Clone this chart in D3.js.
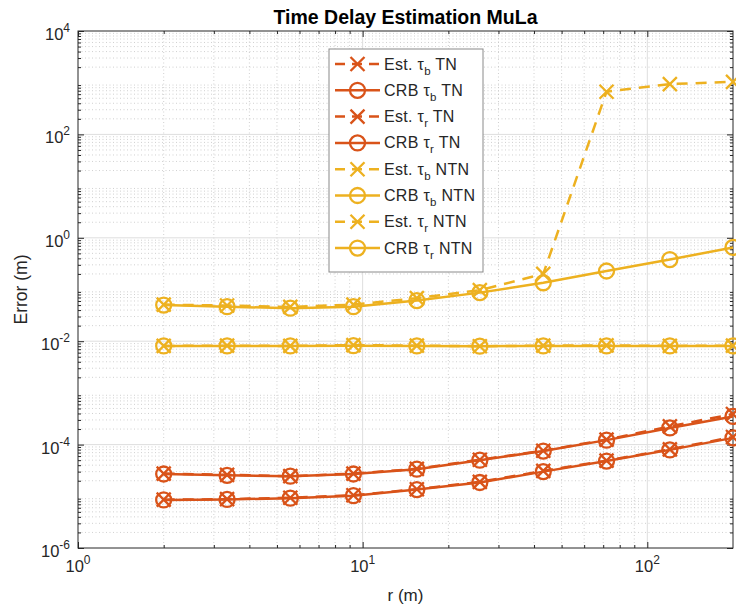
<!DOCTYPE html>
<html><head><meta charset="utf-8">
<script src="https://cdn.jsdelivr.net/npm/d3@7"></script>
<style>body{margin:0;background:#fff}svg{display:block}text{font-family:"Liberation Sans",Arial,Helvetica,sans-serif;fill:#262626}</style>
</head><body><svg id="c" width="736" height="610"></svg>
<script>
const r = [2, 3.34, 5.57, 9.28, 15.5, 25.8, 43.1, 71.9, 120, 200];
const estTauBTN  = [2.75e-5, 2.6e-5, 2.45e-5, 2.75e-5, 3.4e-5, 5.1e-5, 7.6e-5, 1.25e-4, 2.25e-4, 3.9e-4];
const crbTauBTN  = [2.7e-5, 2.55e-5, 2.45e-5, 2.7e-5, 3.35e-5, 5.0e-5, 7.5e-5, 1.22e-4, 2.1e-4, 3.5e-4];
const estTauRTN  = [8.6e-6, 8.8e-6, 9.4e-6, 1.05e-5, 1.37e-5, 1.9e-5, 3.1e-5, 4.9e-5, 8.1e-5, 1.4e-4];
const crbTauRTN  = [8.5e-6, 8.7e-6, 9.2e-6, 1.03e-5, 1.35e-5, 1.85e-5, 3.0e-5, 4.8e-5, 7.9e-5, 1.35e-4];
const estTauBNTN = [0.051, 0.049, 0.046, 0.051, 0.068, 0.097, 0.2, 670, 940, 1040];
const crbTauBNTN = [0.050, 0.0465, 0.0435, 0.0465, 0.061, 0.087, 0.135, 0.228, 0.38, 0.65];
const estTauRNTN = [0.0081, 0.0082, 0.0081, 0.0084, 0.0082, 0.0080, 0.0082, 0.0083, 0.0081, 0.0082];
const crbTauRNTN = [0.0081, 0.0081, 0.0081, 0.0082, 0.0081, 0.0080, 0.0081, 0.0081, 0.0081, 0.0081];
const xTickExp = [0, 1, 2];
const yTickExp = [-6, -4, -2, 0, 2, 4];

const TN = "#D95319", NTN = "#EDB120";
const series = [
  {pre:"Est. τ", sub:"b", post:" TN", vals:estTauBTN, color:TN, est:true},
  {pre:"CRB τ", sub:"b", post:" TN", vals:crbTauBTN, color:TN, est:false},
  {pre:"Est. τ", sub:"r", post:" TN", vals:estTauRTN, color:TN, est:true},
  {pre:"CRB τ", sub:"r", post:" TN", vals:crbTauRTN, color:TN, est:false},
  {pre:"Est. τ", sub:"b", post:" NTN", vals:estTauBNTN, color:NTN, est:true},
  {pre:"CRB τ", sub:"b", post:" NTN", vals:crbTauBNTN, color:NTN, est:false},
  {pre:"Est. τ", sub:"r", post:" NTN", vals:estTauRNTN, color:NTN, est:true},
  {pre:"CRB τ", sub:"r", post:" NTN", vals:crbTauRNTN, color:NTN, est:false}
];

const L = 78, R = 733, T = 31, B = 548;
const x = d3.scaleLog().domain([1, 200]).range([L, R]);
const y = d3.scaleLog().domain([1e-6, 1e4]).range([B, T]);
const svg = d3.select("#c");

// grid
const g = svg.append("g");
const xMinor = [], yMinor = [];
for (let e = 0; e <= 2; e++) for (let m = 2; m <= 9; m++) { const v = m * Math.pow(10, e); if (v < 200) xMinor.push(v); }
for (let e = -6; e < 4; e++) for (let m = 2; m <= 9; m++) yMinor.push(m * Math.pow(10, e));
g.selectAll(".xm").data(xMinor).join("line").attr("x1", d => x(d)).attr("x2", d => x(d)).attr("y1", T).attr("y2", B)
  .attr("stroke", "#c4c4c4").attr("stroke-width", 0.8).attr("stroke-dasharray", "1,2.5");
g.selectAll(".ym").data(yMinor).join("line").attr("y1", d => y(d)).attr("y2", d => y(d)).attr("x1", L).attr("x2", R)
  .attr("stroke", "#c4c4c4").attr("stroke-width", 0.8).attr("stroke-dasharray", "1,2.5");
g.selectAll(".xM").data(xTickExp.slice(1)).join("line").attr("x1", d => x(Math.pow(10, d))).attr("x2", d => x(Math.pow(10, d))).attr("y1", T).attr("y2", B)
  .attr("stroke", "#dedede").attr("stroke-width", 1);
g.selectAll(".yM").data(yTickExp.slice(1, -1)).join("line").attr("y1", d => y(Math.pow(10, d))).attr("y2", d => y(Math.pow(10, d))).attr("x1", L).attr("x2", R)
  .attr("stroke", "#dedede").attr("stroke-width", 1);

// axes via d3 axes (ticks inside)
const ax = svg.append("g");
const xMaj = xTickExp.map(e => Math.pow(10, e)), yMaj = yTickExp.map(e => Math.pow(10, e));
function styleAxis(sel){ sel.select(".domain").remove(); sel.selectAll("line").attr("stroke", "#262626"); sel.selectAll("text").remove(); }
ax.append("g").attr("transform", `translate(0,${B})`).call(d3.axisBottom(x).tickValues(xMaj).tickSizeInner(-6).tickSizeOuter(0)).call(styleAxis);
ax.append("g").attr("transform", `translate(0,${B})`).call(d3.axisBottom(x).tickValues(xMinor).tickSizeInner(-3).tickSizeOuter(0)).call(styleAxis);
ax.append("g").attr("transform", `translate(0,${T})`).call(d3.axisTop(x).tickValues(xMaj).tickSizeInner(-6).tickSizeOuter(0)).call(styleAxis);
ax.append("g").attr("transform", `translate(0,${T})`).call(d3.axisTop(x).tickValues(xMinor).tickSizeInner(-3).tickSizeOuter(0)).call(styleAxis);
ax.append("g").attr("transform", `translate(${L},0)`).call(d3.axisLeft(y).tickValues(yMaj).tickSizeInner(-6).tickSizeOuter(0)).call(styleAxis);
ax.append("g").attr("transform", `translate(${L},0)`).call(d3.axisLeft(y).tickValues(yMinor).tickSizeInner(-3).tickSizeOuter(0)).call(styleAxis);
ax.append("g").attr("transform", `translate(${R},0)`).call(d3.axisRight(y).tickValues(yMaj).tickSizeInner(-6).tickSizeOuter(0)).call(styleAxis);
ax.append("g").attr("transform", `translate(${R},0)`).call(d3.axisRight(y).tickValues(yMinor).tickSizeInner(-3).tickSizeOuter(0)).call(styleAxis);
ax.append("rect").attr("x", L).attr("y", T).attr("width", R - L).attr("height", B - T).attr("fill", "none").attr("stroke", "#262626").attr("stroke-width", 1);

// tick labels
xTickExp.forEach(e => {
  const t = svg.append("text").attr("x", x(Math.pow(10, e))).attr("y", 572).attr("text-anchor", "middle").attr("font-size", 16.5);
  t.append("tspan").text("10");
  t.append("tspan").attr("dy", -8).attr("font-size", 12).text(e);
});
yTickExp.forEach(e => {
  const t = svg.append("text").attr("x", 70).attr("y", y(Math.pow(10, e)) + 9).attr("text-anchor", "end").attr("font-size", 16.5);
  t.append("tspan").text("10");
  t.append("tspan").attr("dy", -8).attr("font-size", 12).text(e);
});

// lines and markers
const line = d3.line().x((d, i) => x(r[i])).y(d => y(d));
function marker(sel, est, color){
  if (est) {
    sel.append("path").attr("d", "M-7,-7L7,7M-7,7L7,-7").attr("stroke", color).attr("stroke-width", 2.3).attr("fill", "none");
  } else {
    sel.append("circle").attr("r", 7.5).attr("stroke", color).attr("stroke-width", 2.3).attr("fill", "none");
  }
}
series.forEach(s => {
  const sg = svg.append("g");
  sg.append("path").datum(s.vals).attr("d", line).attr("fill", "none").attr("stroke", s.color).attr("stroke-width", 2.5)
    .attr("stroke-dasharray", s.est ? "11,8" : null);
  s.vals.forEach((v, i) => {
    const m = sg.append("g").attr("transform", `translate(${x(r[i])},${y(v)})`);
    marker(m, s.est, s.color);
  });
});

// legend
const lg = svg.append("g");
lg.append("rect").attr("x", 329).attr("y", 49).attr("width", 154).attr("height", 223).attr("fill", "#fff").attr("stroke", "#8a8a8a").attr("stroke-width", 1);
series.forEach((s, i) => {
  const yy = 64 + i * 26.3;
  lg.append("line").attr("x1", 335).attr("x2", 380).attr("y1", yy).attr("y2", yy)
    .attr("stroke", s.color).attr("stroke-width", 2.5).attr("stroke-dasharray", s.est ? "10,7" : null);
  const m = lg.append("g").attr("transform", `translate(357.5,${yy})`);
  marker(m, s.est, s.color);
  const t = lg.append("text").attr("x", 384).attr("y", yy + 5.5).attr("font-size", 16).attr("letter-spacing", 0.3);
  t.append("tspan").text(s.pre);
  t.append("tspan").attr("dy", 5).attr("font-size", 11.5).text(s.sub);
  t.append("tspan").attr("dy", -5).text(s.post);
});

// titles
svg.append("text").attr("x", (L + R) / 2).attr("y", 24).attr("text-anchor", "middle").attr("font-size", 19.5).attr("font-weight", "bold").style("fill", "#000").text("Time Delay Estimation MuLa");
svg.append("text").attr("x", (L + R) / 2).attr("y", 601).attr("text-anchor", "middle").attr("font-size", 17).text("r (m)");
svg.append("text").attr("transform", `translate(27,${(T + B) / 2}) rotate(-90)`).attr("text-anchor", "middle").attr("font-size", 17.5).text("Error (m)");
</script></body></html>
